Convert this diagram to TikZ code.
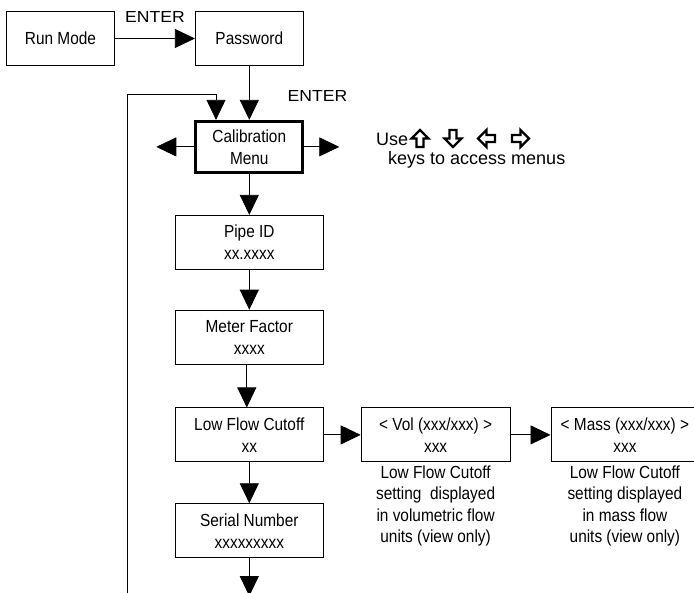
\documentclass[tikz,border=0pt]{standalone}
\usepackage{fontspec}
\setmainfont[FakeStretch=0.88]{Liberation Sans}
\newfontfamily\enterfont[FakeStretch=1.1]{Liberation Sans}
\newfontfamily\keysfont{Liberation Sans}
\usetikzlibrary{positioning,arrows.meta}

\begin{document}
\begin{tikzpicture}[
  x=1pt, y=-1pt,
  font=\fontsize{17.5}{22}\selectfont,
  box/.style={draw, line width=0.8pt, align=center, minimum height=54pt, minimum width=148pt, inner sep=2pt},
  smallbox/.style={box, minimum width=108pt},
  menu/.style={box, line width=3pt, minimum width=107pt, minimum height=51pt},
  note/.style={align=center, inner sep=1pt, font=\fontsize{17.5}{21.5}\selectfont},
  lbl/.style={inner sep=0pt, font=\enterfont\fontsize{16}{18}\selectfont},
  hint/.style={inner sep=0pt, font=\keysfont\fontsize{18}{20}\selectfont},
  keyarrow/.style={draw, line width=2.3pt, line join=miter, fill=white},
  arr/.style={-{Triangle[length=20pt,width=19pt]}, line width=0.8pt},
  node distance=40pt]
  \useasboundingbox (0,0) rectangle (694,593);
  \node[smallbox] (run) at (60.5,38.5) {Run Mode};
  \node[smallbox, right=80pt of run] (pwd) {Password};
  \node[menu, below=54pt of pwd] (calib) {Calibration\\Menu};
  \node[box, below=41pt of calib] (pipe) {Pipe ID\\xx.xxxx};
  \node[box, below=40pt of pipe] (meter) {Meter Factor\\xxxx};
  \node[box, below=43pt of meter] (lfc) {Low Flow Cutoff\\xx};
  \node[box, below=41pt of lfc] (serial) {Serial Number\\xxxxxxxxx};
  \node[box, right=37pt of lfc, minimum width=149pt] (vol) {< Vol (xxx/xxx) >\\xxx};
  \node[box, right=40pt of vol] (mass) {< Mass (xxx/xxx) >\\xxx};
  \node[note, below=2pt of vol] (volnote) {Low Flow Cutoff\\setting \ displayed\\in volumetric flow\\units (view only)};
  \node[note, below=2pt of mass] (massnote) {Low Flow Cutoff\\setting displayed\\in mass flow\\units (view only)};
  \node[hint, anchor=base west] (use) at (376,146) {Use};
  \node[hint, anchor=base west] (keys) at (388,165) {keys to access menus};
  % hollow key arrows: up, down, left, right
  \foreach \ang/\kx in {0/420, 180/453, 90/486.5, -90/520.5}
    \draw[keyarrow, shift={(\kx,138.5)}, rotate=\ang]
      (0,-8.5) -- (8.5,0) -- (3.5,0) -- (3.5,8.5) -- (-3.5,8.5) -- (-3.5,0) -- (-8.5,0) -- cycle;
  % free ends
  \coordinate[left=38pt of calib] (menuleft);
  \coordinate[right=35pt of calib] (menuright);
  \coordinate[below=38pt of serial] (serialend);
  \coordinate (loopbot) at (127,593);
  \coordinate (looptop) at (216,94);
  \draw[arr] (run) -- node[lbl, midway, above=16pt] (enter1) {ENTER} (pwd);
  \draw[arr] (pwd) -- node[lbl, pos=0.56, right=38pt] (enter2) {ENTER} (calib);
  \draw[arr] (loopbot) |- (looptop) -- (looptop |- calib.north);
  \draw[arr] (calib) -- (menuleft);
  \draw[arr] (calib) -- (menuright);
  \draw[arr] (calib) -- (pipe);
  \draw[arr] (pipe) -- (meter);
  \draw[arr] ([xshift=-2.5pt]meter.south) -- ([xshift=-2.5pt]lfc.north);
  \draw[arr] (lfc) -- (serial);
  \draw[arr] (serial) -- (serialend);
  \draw[arr] (lfc) -- (vol);
  \draw[arr] (vol) -- (mass);
\end{tikzpicture}
\end{document}
